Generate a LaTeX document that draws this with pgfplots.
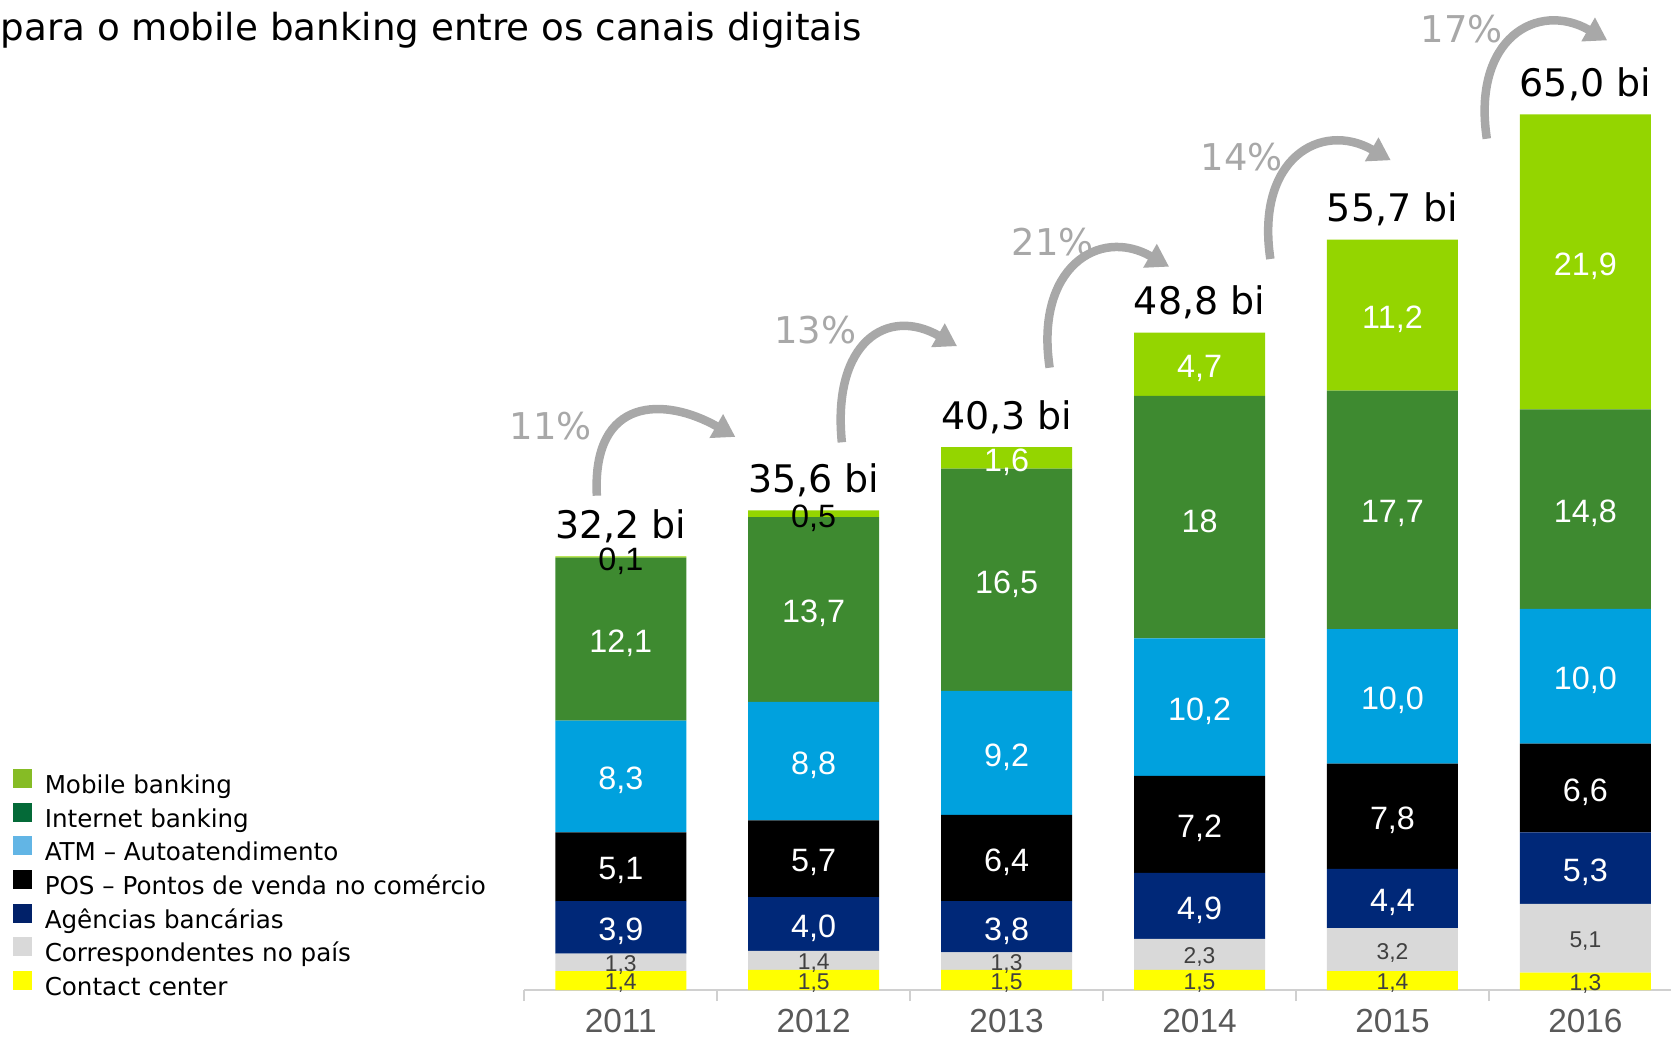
\documentclass[border=0pt]{standalone}
\usepackage{pgfplots}
\pgfplotsset{compat=1.18}
\usepackage{pgfplotstable}
\usepackage{fontspec}
\setmainfont{DejaVu Sans}
\newfontfamily\arial{Liberation Sans}
\usetikzlibrary{arrows.meta}

\definecolor{mbbar}{RGB}{148,213,0}
\definecolor{ibbar}{RGB}{62,138,48}
\definecolor{atmbar}{RGB}{0,161,222}
\definecolor{agbar}{RGB}{0,40,120}
\definecolor{cobar}{RGB}{217,217,217}
\definecolor{ccbar}{RGB}{255,255,0}
\definecolor{mbleg}{RGB}{134,188,37}
\definecolor{ibleg}{RGB}{4,106,56}
\definecolor{atmleg}{RGB}{98,181,229}
\definecolor{agleg}{RGB}{1,33,105}
\definecolor{lbldark}{RGB}{64,64,64}
\definecolor{yeargray}{RGB}{89,89,89}
\definecolor{axisgray}{RGB}{208,208,208}
\definecolor{pctgray}{RGB}{168,168,168}
\definecolor{arrowgray}{RGB}{168,168,168}
\newcommand\blk[1]{\textcolor{black}{#1}}

% one table per channel, stacked bottom to top
\pgfplotstableread{
x v lab
0 1.4 1,4
1 1.5 1,5
2 1.5 1,5
3 1.5 1,5
4 1.4 1,4
5 1.3 1,3
}\cc
\pgfplotstableread{
x v lab
0 1.3 1,3
1 1.4 1,4
2 1.3 1,3
3 2.3 2,3
4 3.2 3,2
5 5.1 5,1
}\co
\pgfplotstableread{
x v lab
0 3.9 3,9
1 4.0 4,0
2 3.8 3,8
3 4.9 4,9
4 4.4 4,4
5 5.3 5,3
}\ag
\pgfplotstableread{
x v lab
0 5.1 5,1
1 5.7 5,7
2 6.4 6,4
3 7.2 7,2
4 7.8 7,8
5 6.6 6,6
}\pos
\pgfplotstableread{
x v lab
0 8.3 8,3
1 8.8 8,8
2 9.2 9,2
3 10.2 10,2
4 10.0 10,0
5 10.0 10,0
}\atm
\pgfplotstableread{
x v lab
0 12.1 12,1
1 13.7 13,7
2 16.5 16,5
3 18 18
4 17.7 17,7
5 14.8 14,8
}\ib
\pgfplotstableread{
x v lab
0 0.1 \blk{0,1}
1 0.5 \blk{0,5}
2 1.6 1,6
3 4.7 4,7
4 11.2 11,2
5 21.9 21,9
}\mb
\pgfplotstableread[col sep=semicolon]{
x;v;lab
0;32.2;32,2 bi
1;35.6;35,6 bi
2;40.3;40,3 bi
3;48.8;48,8 bi
4;55.7;55,7 bi
5;65.0;65,0 bi
}\tot

\pgfplotsset{
  frame/.style={
    at={(52.43mm,4.8mm)}, anchor=south west,
    scale only axis, width=115.76mm, height=94.29mm,
    xmin=-0.5, xmax=5.5, ymin=0, ymax=70, clip=false,
  },
  % stacked bars already centre their labels in each segment
  seg/.style n args={3}{
    fill=#1, draw=none, forget plot,
    nodes near coords,
    point meta=explicit symbolic,
    every node near coord/.style={anchor=center, inner sep=0pt, text=#3,
      yshift=-0.045*#2 mm, font=\arial\fontsize{#2}{#2}\selectfont},
  },
}
\tikzset{
  growarr/.style={draw=arrowgray, line width=0.85mm,
    -{Triangle[width=2.6mm,length=2.2mm]}},
  pct/.style={text=pctgray, font=\fontsize{10.5}{12}\selectfont, inner sep=0pt},
}

\begin{document}
\begin{tikzpicture}
\useasboundingbox (0,0) rectangle (167.1mm,103.8mm);
\node[anchor=base west, inner sep=0pt, font=\fontsize{10.6}{12}\selectfont]
  at (0,99.75mm) {para o mobile banking entre os canais digitais};
\begin{axis}[
  frame,
  ybar stacked, bar width=13.1mm,
  axis y line=none,
  axis x line*=bottom,
  x axis line style={draw=axisgray, line width=0.6pt, -},
  xtick={0,1,2,3,4,5},
  xticklabels={2011,2012,2013,2014,2015,2016},
  major tick length=0pt,
  tick align=outside,
  xtick style={draw=axisgray, line width=0.6pt},
  xticklabel style={font=\arial\fontsize{9.5}{10}\selectfont, text=yeargray,
    inner sep=0pt, yshift=-1.84mm},
  extra x ticks={-0.5,0.5,1.5,2.5,3.5,4.5,5.5},
  extra x tick labels={},
  extra x tick style={major tick length=1.1mm},
  legend image code/.code={\fill[#1] (0mm,-0.05mm) rectangle (1.9mm,1.85mm);},
  legend style={at={(-0.4419,0.2346)}, anchor=north west, draw=none, fill=none,
    inner sep=0pt, outer sep=0pt, row sep=0.32mm, column sep=1.3mm,
    font=\fontsize{7}{8}\selectfont,
    nodes={inner sep=0pt, text height=1.8mm, text depth=0.6mm}},
  legend cell align=left,
]
\addlegendimage{fill=mbleg, draw=none}
\addlegendentry{Mobile banking}
\addlegendimage{fill=ibleg, draw=none}
\addlegendentry{Internet banking}
\addlegendimage{fill=atmleg, draw=none}
\addlegendentry{ATM – Autoatendimento}
\addlegendimage{fill=black, draw=none}
\addlegendentry{POS – Pontos de venda no comércio}
\addlegendimage{fill=agleg, draw=none}
\addlegendentry{Agências bancárias}
\addlegendimage{fill=cobar, draw=none}
\addlegendentry{Correspondentes no país}
\addlegendimage{fill=ccbar, draw=none}
\addlegendentry{Contact center}

\addplot[seg={ccbar}{6.5}{lbldark}] table[x=x, y=v, meta=lab] {\cc};
\addplot[seg={cobar}{6.5}{lbldark}] table[x=x, y=v, meta=lab] {\co};
\addplot[seg={agbar}{9.2}{white}] table[x=x, y=v, meta=lab] {\ag};
\addplot[seg={black}{9.2}{white}] table[x=x, y=v, meta=lab] {\pos};
\addplot[seg={atmbar}{9.2}{white}] table[x=x, y=v, meta=lab] {\atm};
\addplot[seg={ibbar}{9.2}{white}] table[x=x, y=v, meta=lab] {\ib};
\addplot[seg={mbbar}{9.2}{white}] table[x=x, y=v, meta=lab] {\mb};

% growth arrows and rates
\draw[growarr] (axis cs:-0.124,36.7) .. controls +(-0.5mm,10mm) and +(-7mm,4mm) .. (axis cs:0.594,41.06);
\draw[growarr] (axis cs:1.146,40.66) .. controls +(-1mm,10mm) and +(-7mm,4mm) .. (axis cs:1.743,47.8);
\draw[growarr] (axis cs:2.223,46.2) .. controls +(-1.5mm,10mm) and +(-7mm,4mm) .. (axis cs:2.842,53.7);
\draw[growarr] (axis cs:3.367,54.27) .. controls +(-1.5mm,10mm) and +(-7mm,4mm) .. (axis cs:3.991,61.6);
\draw[growarr] (axis cs:4.489,63.2) .. controls +(-1.5mm,10mm) and +(-7mm,4mm) .. (axis cs:5.113,70.5);
\node[pct] at (axis cs:-0.362,41.85) {11\%};
\node[pct] at (axis cs:1.008,48.97) {13\%};
\node[pct] at (axis cs:2.24,55.5) {21\%};
\node[pct] at (axis cs:3.218,61.87) {14\%};
\node[pct] at (axis cs:4.36,71.36) {17\%};
\end{axis}
% totals above the bars
\begin{axis}[frame, hide axis]
\addplot[only marks, mark=none, nodes near coords,
  point meta=explicit symbolic,
  every node near coord/.style={anchor=center, inner sep=0pt, yshift=3.0mm,
    text=black, font=\fontsize{10.8}{12}\selectfont}]
  table[x=x, y=v, meta=lab] {\tot};
\end{axis}
\end{tikzpicture}
\end{document}
